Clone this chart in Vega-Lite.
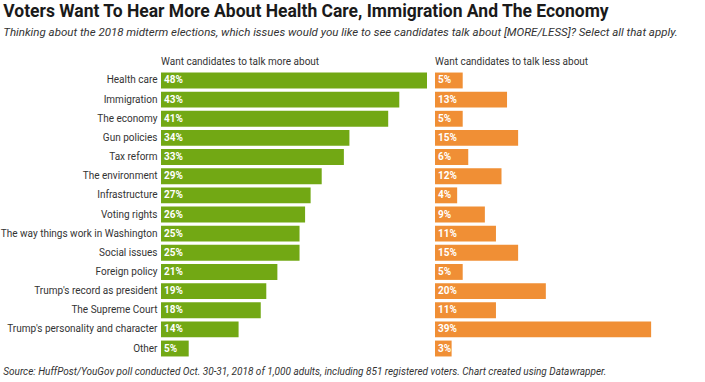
{
  "$schema": "https://vega.github.io/schema/vega-lite/v6.json",
  "padding": {"left": 0, "top": 3, "right": 0, "bottom": 0},
  "background": "white",
  "title": {
    "text": "Voters Want To Hear More About Health Care, Immigration And The Economy",
    "subtitle": "Thinking about the 2018 midterm elections, which issues would you like to see candidates talk about [MORE/LESS]? Select all that apply.",
    "anchor": "start",
    "dx": 3,
    "font": "Roboto",
    "fontSize": 17.5,
    "fontWeight": "bold",
    "color": "#1a1a1a",
    "subtitleFont": "Roboto",
    "subtitleFontSize": 11.5,
    "subtitleFontStyle": "italic",
    "subtitleColor": "#333333",
    "subtitlePadding": 6,
    "offset": 19
  },
  "data": {
    "values": [
      {"issue": "Health care", "more": 0.48, "less": 0.05},
      {"issue": "Immigration", "more": 0.43, "less": 0.13},
      {"issue": "The economy", "more": 0.41, "less": 0.05},
      {"issue": "Gun policies", "more": 0.34, "less": 0.15},
      {"issue": "Tax reform", "more": 0.33, "less": 0.06},
      {"issue": "The environment", "more": 0.29, "less": 0.12},
      {"issue": "Infrastructure", "more": 0.27, "less": 0.04},
      {"issue": "Voting rights", "more": 0.26, "less": 0.09},
      {"issue": "The way things work in Washington", "more": 0.25, "less": 0.11},
      {"issue": "Social issues", "more": 0.25, "less": 0.15},
      {"issue": "Foreign policy", "more": 0.21, "less": 0.05},
      {"issue": "Trump's record as president", "more": 0.19, "less": 0.20},
      {"issue": "The Supreme Court", "more": 0.18, "less": 0.11},
      {"issue": "Trump's personality and character", "more": 0.14, "less": 0.39},
      {"issue": "Other", "more": 0.05, "less": 0.03}
    ]
  },
  "vconcat": [
    {
      "title": {
        "text": "Source: HuffPost/YouGov poll conducted Oct. 30-31, 2018 of 1,000 adults, including 851 registered voters. Chart created using Datawrapper.",
        "orient": "bottom",
        "anchor": "start",
        "dx": 3,
        "font": "Roboto",
        "fontSize": 10,
        "fontStyle": "italic",
        "fontWeight": "normal",
        "color": "#333333",
        "offset": 9
      },
      "spacing": 8,
      "hconcat": [
        {
          "width": 266,
          "height": 287,
          "title": {"text": "Want candidates to talk more about", "anchor": "start", "frame": "group", "font": "Roboto", "fontSize": 10, "fontWeight": "normal", "color": "#333333", "offset": 4},
          "encoding": {
            "y": {
              "field": "issue", "type": "nominal", "sort": null,
              "scale": {"paddingInner": 0.17, "paddingOuter": 0.08},
              "axis": {"title": null, "domain": false, "ticks": false, "labelFont": "Roboto", "labelFontSize": 10, "labelColor": "#333333", "labelPadding": 4, "labelLimit": 300}
            }
          },
          "layer": [
            {
              "mark": {"type": "bar", "color": "#72a814"},
              "encoding": {"x": {"field": "more", "type": "quantitative", "scale": {"domain": [0, 0.48], "nice": false}, "axis": null}}
            },
            {
              "mark": {"type": "text", "align": "left", "dx": 3, "color": "white", "font": "Roboto", "fontSize": 10, "fontWeight": "bold"},
              "encoding": {"x": {"datum": 0, "type": "quantitative"}, "text": {"field": "more", "type": "quantitative", "format": ".0%"}}
            }
          ]
        },
        {
          "width": 266,
          "height": 287,
          "title": {"text": "Want candidates to talk less about", "anchor": "start", "frame": "group", "font": "Roboto", "fontSize": 10, "fontWeight": "normal", "color": "#333333", "offset": 4},
          "encoding": {
            "y": {
              "field": "issue", "type": "nominal", "sort": null,
              "scale": {"paddingInner": 0.17, "paddingOuter": 0.08},
              "axis": null
            }
          },
          "layer": [
            {
              "mark": {"type": "bar", "color": "#f08f35"},
              "encoding": {"x": {"field": "less", "type": "quantitative", "scale": {"domain": [0, 0.48], "nice": false}, "axis": null}}
            },
            {
              "mark": {"type": "text", "align": "left", "dx": 3, "color": "white", "font": "Roboto", "fontSize": 10, "fontWeight": "bold"},
              "encoding": {"x": {"datum": 0, "type": "quantitative"}, "text": {"field": "less", "type": "quantitative", "format": ".0%"}}
            }
          ]
        }
      ]
    }
  ],
  "config": {"view": {"stroke": null}}
}
